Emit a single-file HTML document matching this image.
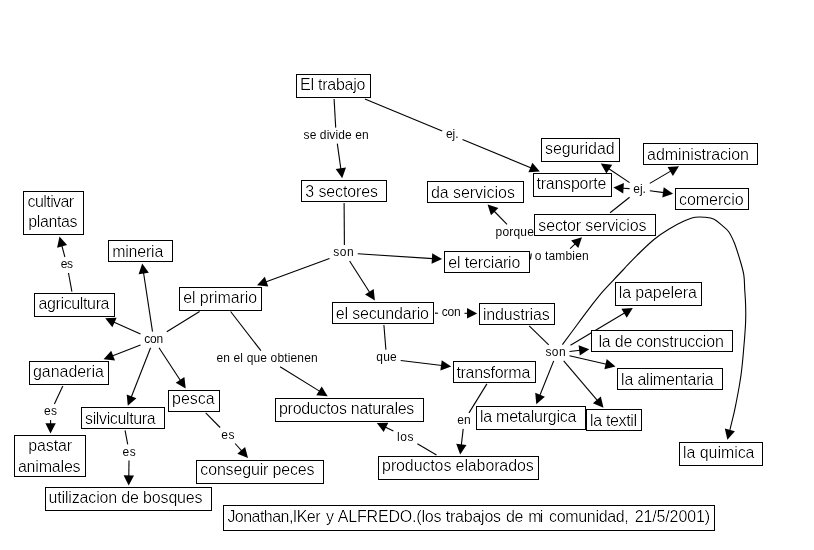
<!DOCTYPE html>
<html lang="es">
<head>
<meta charset="utf-8">
<title>El trabajo - mapa conceptual</title>
<style>
html,body{margin:0;padding:0;background:#fff;}
body{width:814px;height:550px;overflow:hidden;}
svg{display:block;}
.n{font-family:"Liberation Sans",Arial,Helvetica,sans-serif;font-size:16px;fill:#000;}
.l{font-family:"Liberation Sans",Arial,Helvetica,sans-serif;font-size:12px;fill:#000;}
.b{fill:#fff;stroke:#000;stroke-width:1;shape-rendering:crispEdges;}
.e{stroke:#000;stroke-width:1.1;fill:none;}
.c{stroke:#000;stroke-width:1.1;fill:none;}
.a{fill:#000;stroke:none;}
</style>
</head>
<body>
<svg width="814" height="550" viewBox="0 0 814 550">
<rect x="0" y="0" width="814" height="550" fill="#fff"/>
<defs>
<filter id="tn" x="0" y="0" width="814" height="550" filterUnits="userSpaceOnUse" color-interpolation-filters="sRGB"><feComponentTransfer><feFuncA type="gamma" amplitude="1" exponent="1.9" offset="0"/></feComponentTransfer></filter>
<filter id="tl" x="0" y="0" width="814" height="550" filterUnits="userSpaceOnUse" color-interpolation-filters="sRGB"><feComponentTransfer><feFuncA type="gamma" amplitude="1" exponent="1.1" offset="0"/></feComponentTransfer></filter>
</defs>
<g class="e">
<line x1="334.1" y1="99.0" x2="335.7" y2="127.6"/>
<line x1="337.3" y1="143.6" x2="340.9" y2="169.2"/>
<line x1="364.9" y1="99.0" x2="442.2" y2="131.1"/>
<line x1="462.5" y1="139.5" x2="531.3" y2="167.9"/>
<line x1="344.1" y1="202.9" x2="344.4" y2="245.0"/>
<line x1="329.5" y1="258.5" x2="265.6" y2="282.0"/>
<line x1="349.6" y1="261.0" x2="369.9" y2="292.7"/>
<line x1="357.7" y1="253.8" x2="432.9" y2="258.6"/>
<line x1="199.6" y1="311.5" x2="166.8" y2="331.7"/>
<line x1="152.5" y1="331.7" x2="143.5" y2="272.5"/>
<line x1="140.5" y1="333.9" x2="113.6" y2="322.0"/>
<line x1="140.5" y1="344.9" x2="112.2" y2="355.9"/>
<line x1="150.6" y1="347.7" x2="131.2" y2="397.2"/>
<line x1="159.0" y1="347.7" x2="180.6" y2="380.7"/>
<line x1="71.9" y1="291.6" x2="68.5" y2="273.0"/>
<line x1="64.9" y1="257.0" x2="61.8" y2="245.5"/>
<line x1="62.8" y1="386.0" x2="54.4" y2="404.1"/>
<line x1="50.6" y1="420.1" x2="50.6" y2="424.3"/>
<line x1="125.1" y1="430.3" x2="127.7" y2="444.4"/>
<line x1="129.0" y1="460.4" x2="128.8" y2="476.3"/>
<line x1="205.7" y1="412.9" x2="220.1" y2="427.5"/>
<line x1="235.1" y1="443.5" x2="241.9" y2="451.1"/>
<line x1="230.6" y1="311.5" x2="260.9" y2="350.7"/>
<line x1="280.1" y1="366.7" x2="319.9" y2="391.4"/>
<line x1="383.9" y1="325.0" x2="385.9" y2="349.7"/>
<line x1="400.7" y1="360.5" x2="442.1" y2="365.5"/>
<line x1="435.0" y1="313.1" x2="438.1" y2="313.2"/>
<line x1="464.5" y1="313.3" x2="468.0" y2="313.3"/>
<line x1="529.2" y1="325.8" x2="548.7" y2="344.9"/>
<line x1="570.5" y1="345.3" x2="624.9" y2="312.7"/>
<line x1="569.5" y1="351.5" x2="580.2" y2="350.3"/>
<line x1="569.5" y1="355.8" x2="606.5" y2="364.3"/>
<line x1="563.7" y1="360.9" x2="597.5" y2="400.7"/>
<line x1="553.7" y1="360.9" x2="539.7" y2="395.7"/>
<line x1="486.9" y1="383.9" x2="469.0" y2="412.9"/>
<line x1="463.2" y1="428.9" x2="461.3" y2="445.4"/>
<line x1="436.5" y1="455.0" x2="417.4" y2="443.8"/>
<line x1="393.4" y1="431.1" x2="385.1" y2="427.0"/>
<line x1="531.3" y1="253.5" x2="530.4" y2="259.3"/>
<line x1="570.1" y1="248.7" x2="575.4" y2="243.6"/>
<line x1="507.0" y1="224.3" x2="494.0" y2="211.0"/>
<line x1="610.1" y1="212.7" x2="629.6" y2="197.3"/>
<line x1="629.6" y1="182.6" x2="608.5" y2="168.5"/>
<line x1="629.6" y1="188.6" x2="622.6" y2="188.2"/>
<line x1="649.8" y1="183.4" x2="671.1" y2="170.9"/>
<line x1="649.8" y1="190.7" x2="664.0" y2="192.6"/>
</g>
<path class="c" d="M562.4 344.6 C564.2 342.2 568.9 335.8 573.2 330.0 C577.5 324.2 583.5 315.9 588.2 309.8 C592.9 303.7 597.4 298.0 601.4 293.2 C605.4 288.4 608.9 285.0 612.5 281.1 C616.1 277.2 620.5 272.6 623.0 270.0 C625.5 267.4 624.4 268.3 627.2 265.4 C630.0 262.5 635.4 256.9 639.9 252.5 C644.4 248.2 649.5 243.2 654.3 239.3 C659.1 235.4 663.9 232.2 668.7 229.3 C673.5 226.4 678.6 223.6 683.0 221.6 C687.4 219.6 691.5 218.0 695.2 217.3 C698.9 216.6 702.1 217.0 705.3 217.3 C708.4 217.6 711.4 217.9 714.1 219.2 C716.9 220.5 719.4 223.1 721.8 225.2 C724.2 227.3 726.6 228.7 728.7 231.7 C730.8 234.7 732.5 238.4 734.4 243.0 C736.2 247.6 738.2 254.1 739.8 259.4 C741.4 264.7 743.0 269.9 743.8 274.9 C744.6 279.9 744.4 284.2 744.7 289.2 C745.0 294.2 745.5 299.5 745.6 305.0 C745.8 310.5 745.8 316.9 745.6 322.1 C745.5 327.4 745.0 331.9 744.7 336.5 C744.4 341.1 743.9 345.9 743.6 349.8 C743.3 353.7 743.1 355.9 742.7 360.0 C742.3 364.1 741.7 370.0 741.1 374.4 C740.5 378.8 740.0 381.9 739.2 386.5 C738.4 391.1 737.2 397.4 736.3 402.0 C735.4 406.6 734.8 409.8 733.7 414.4 C732.6 419.0 730.5 427.2 729.9 429.8"/>
<g class="a">
<polygon points="342.2,178.3 335.7,168.9 346.0,167.5"/>
<polygon points="539.8,171.4 528.4,172.3 532.4,162.7"/>
<polygon points="257.0,285.2 264.8,276.8 268.3,286.6"/>
<polygon points="374.9,300.4 365.0,294.6 373.7,289.0"/>
<polygon points="442.1,259.1 431.6,263.7 432.2,253.3"/>
<polygon points="142.2,263.4 148.8,272.7 138.6,274.3"/>
<polygon points="105.2,318.3 116.6,317.7 112.4,327.2"/>
<polygon points="103.6,359.3 111.2,350.7 115.0,360.4"/>
<polygon points="127.8,405.8 126.7,394.4 136.4,398.2"/>
<polygon points="185.7,388.4 175.7,382.7 184.4,377.0"/>
<polygon points="59.5,236.6 67.1,245.1 57.1,247.8"/>
<polygon points="50.5,433.5 45.4,423.3 55.8,423.3"/>
<polygon points="128.7,485.5 123.6,475.2 134.0,475.4"/>
<polygon points="248.0,458.0 237.3,453.8 245.1,446.9"/>
<polygon points="327.7,396.2 316.3,395.2 321.7,386.4"/>
<polygon points="451.2,366.6 440.4,370.6 441.7,360.2"/>
<polygon points="477.2,313.4 467.0,318.5 467.0,308.1"/>
<polygon points="632.8,308.0 626.7,317.7 621.4,308.8"/>
<polygon points="589.3,349.2 579.8,355.5 578.6,345.2"/>
<polygon points="615.5,366.4 604.4,369.2 606.7,359.0"/>
<polygon points="603.5,407.7 592.9,403.3 600.8,396.6"/>
<polygon points="536.3,404.2 535.2,392.8 544.9,396.7"/>
<polygon points="460.2,454.5 456.2,443.8 466.5,445.0"/>
<polygon points="376.8,423.0 388.3,422.8 383.7,432.1"/>
<polygon points="582.0,237.2 578.3,248.0 571.1,240.5"/>
<polygon points="487.6,204.4 498.4,208.1 491.0,215.3"/>
<polygon points="600.8,163.4 612.2,164.7 606.4,173.4"/>
<polygon points="613.4,187.5 623.9,183.0 623.2,193.4"/>
<polygon points="679.0,166.3 672.9,175.9 667.6,167.0"/>
<polygon points="673.1,193.8 662.3,197.6 663.7,187.3"/>
<polygon points="727.4,439.8 724.8,428.6 734.9,431.2"/>
</g>
<g class="l" filter="url(#tl)">
<text x="303.6" y="138.9" textLength="65.0" lengthAdjust="spacing">se divide en</text>
<text x="445.9" y="137.8" textLength="12.7" lengthAdjust="spacing">ej.</text>
<text x="333.2" y="256.3" textLength="20.6" lengthAdjust="spacing">son</text>
<text x="144.2" y="343.0" textLength="18.9" lengthAdjust="spacing">con</text>
<text x="60.7" y="268.3" textLength="12.4" lengthAdjust="spacing">es</text>
<text x="44.1" y="415.4" textLength="13.0" lengthAdjust="spacing">es</text>
<text x="122.4" y="455.7" textLength="13.3" lengthAdjust="spacing">es</text>
<text x="221.2" y="438.8" textLength="13.3" lengthAdjust="spacing">es</text>
<text x="216.4" y="362.0" textLength="101.3" lengthAdjust="spacing">en el que obtienen</text>
<text x="376.2" y="361.0" textLength="20.6" lengthAdjust="spacing">que</text>
<text x="441.8" y="315.7" textLength="18.8" lengthAdjust="spacing">con</text>
<text x="545.5" y="356.2" textLength="20.1" lengthAdjust="spacing">son</text>
<text x="457.3" y="424.2" textLength="13.4" lengthAdjust="spacing">en</text>
<text x="397.1" y="441.0" textLength="16.4" lengthAdjust="spacing">los</text>
<text x="534.7" y="260.0" textLength="54.0" lengthAdjust="spacing">o tambien</text>
<text x="495.5" y="235.6" textLength="38.4" lengthAdjust="spacing">porque</text>
<text x="633.3" y="192.6" textLength="12.6" lengthAdjust="spacing">ej.</text>
</g>
<g class="b">
<rect x="296.5" y="74.5" width="74" height="23"/>
<rect x="301.5" y="180.5" width="85" height="21"/>
<rect x="541.5" y="138.5" width="78" height="23"/>
<rect x="643.5" y="143.5" width="114" height="21"/>
<rect x="533.5" y="173.5" width="78" height="23"/>
<rect x="675.5" y="188.5" width="73" height="21"/>
<rect x="427.5" y="181.5" width="96" height="21"/>
<rect x="534.5" y="214.5" width="121" height="21"/>
<rect x="444.5" y="251.5" width="85" height="21"/>
<rect x="179.5" y="287.5" width="82" height="23"/>
<rect x="332.5" y="302.5" width="101" height="21"/>
<rect x="479.5" y="303.5" width="75" height="21"/>
<rect x="615.5" y="282.5" width="86" height="23"/>
<rect x="591.5" y="330.5" width="141" height="21"/>
<rect x="617.5" y="368.5" width="105" height="21"/>
<rect x="586.5" y="409.5" width="55" height="21"/>
<rect x="476.5" y="406.5" width="109" height="23"/>
<rect x="679.5" y="442.5" width="83" height="23"/>
<rect x="453.5" y="361.5" width="82" height="21"/>
<rect x="275.5" y="398.5" width="148" height="23"/>
<rect x="378.5" y="456.5" width="160" height="23"/>
<rect x="23.5" y="191.5" width="60" height="43"/>
<rect x="108.5" y="240.5" width="64" height="21"/>
<rect x="34.5" y="293.5" width="80" height="23"/>
<rect x="29.5" y="361.5" width="79" height="23"/>
<rect x="81.5" y="407.5" width="83" height="21"/>
<rect x="168.5" y="390.5" width="51" height="21"/>
<rect x="14.5" y="435.5" width="71" height="41"/>
<rect x="45.5" y="487.5" width="166" height="23"/>
<rect x="196.5" y="460.5" width="127" height="23"/>
<rect x="223.5" y="505.5" width="491" height="25"/>
</g>
<g class="n" filter="url(#tn)">
<text x="300.1" y="89.8" textLength="65.3" lengthAdjust="spacing">El trabajo</text>
<text x="305.3" y="197.4" textLength="72.7" lengthAdjust="spacing">3 sectores</text>
<text x="545.0" y="153.7" textLength="69.6" lengthAdjust="spacing">seguridad</text>
<text x="647.1" y="160.3" textLength="101.9" lengthAdjust="spacing">administracion</text>
<text x="536.4" y="188.5" textLength="70.1" lengthAdjust="spacing">transporte</text>
<text x="679.0" y="204.6" textLength="64.6" lengthAdjust="spacing">comercio</text>
<text x="430.9" y="198.4" textLength="84.0" lengthAdjust="spacing">da servicios</text>
<text x="538.3" y="231.2" textLength="108.2" lengthAdjust="spacing">sector servicios</text>
<text x="448.2" y="267.6" textLength="72.2" lengthAdjust="spacing">el terciario</text>
<text x="183.2" y="303.3" textLength="73.9" lengthAdjust="spacing">el primario</text>
<text x="335.8" y="318.6" textLength="93.2" lengthAdjust="spacing">el secundario</text>
<text x="482.9" y="320.0" textLength="66.8" lengthAdjust="spacing">industrias</text>
<text x="618.7" y="297.5" textLength="78.1" lengthAdjust="spacing">la papelera</text>
<text x="598.5" y="347.4" textLength="125.3" lengthAdjust="spacing">la de construccion</text>
<text x="621.1" y="384.5" textLength="92.6" lengthAdjust="spacing">la alimentaria</text>
<text x="590.0" y="426.2" textLength="47.1" lengthAdjust="spacing">la textil</text>
<text x="479.9" y="422.4" textLength="96.6" lengthAdjust="spacing">la metalurgica</text>
<text x="683.0" y="457.7" textLength="71.5" lengthAdjust="spacing">la quimica</text>
<text x="456.4" y="378.4" textLength="73.9" lengthAdjust="spacing">transforma</text>
<text x="279.0" y="414.3" textLength="135.3" lengthAdjust="spacing">productos naturales</text>
<text x="382.1" y="471.2" textLength="151.6" lengthAdjust="spacing">productos elaborados</text>
<text x="27.5" y="206.8" textLength="46.7" lengthAdjust="spacing">cultivar</text>
<text x="28.3" y="227.3" textLength="49.3" lengthAdjust="spacing">plantas</text>
<text x="112.2" y="257.4" textLength="51.1" lengthAdjust="spacing">mineria</text>
<text x="38.4" y="308.6" textLength="71.1" lengthAdjust="spacing">agricultura</text>
<text x="33.0" y="376.8" textLength="70.8" lengthAdjust="spacing">ganaderia</text>
<text x="85.0" y="423.8" textLength="70.7" lengthAdjust="spacing">silvicultura</text>
<text x="172.0" y="403.7" textLength="42.7" lengthAdjust="spacing">pesca</text>
<text x="28.2" y="451.4" textLength="43.9" lengthAdjust="spacing">pastar</text>
<text x="17.9" y="472.0" textLength="62.7" lengthAdjust="spacing">animales</text>
<text x="48.5" y="503.0" textLength="154.1" lengthAdjust="spacing">utilizacion de bosques</text>
<text x="200.3" y="475.3" textLength="114.3" lengthAdjust="spacing">conseguir peces</text>
<text y="521.7"><tspan x="227.4" textLength="93.1" lengthAdjust="spacing">Jonathan,IKer</tspan> <tspan x="326.0" textLength="7.0" lengthAdjust="spacing">y</tspan> <tspan x="337.7" textLength="103.9" lengthAdjust="spacing">ALFREDO.(los</tspan> <tspan x="445.7" textLength="55.4" lengthAdjust="spacing">trabajos</tspan> <tspan x="506.1" textLength="17.4" lengthAdjust="spacing">de</tspan> <tspan x="528.2" textLength="15.1" lengthAdjust="spacing">mi</tspan> <tspan x="549.1" textLength="79.7" lengthAdjust="spacing">comunidad,</tspan> <tspan x="634.7" textLength="75.3" lengthAdjust="spacing">21/5/2001)</tspan></text>
</g>
</svg>
</body>
</html>
